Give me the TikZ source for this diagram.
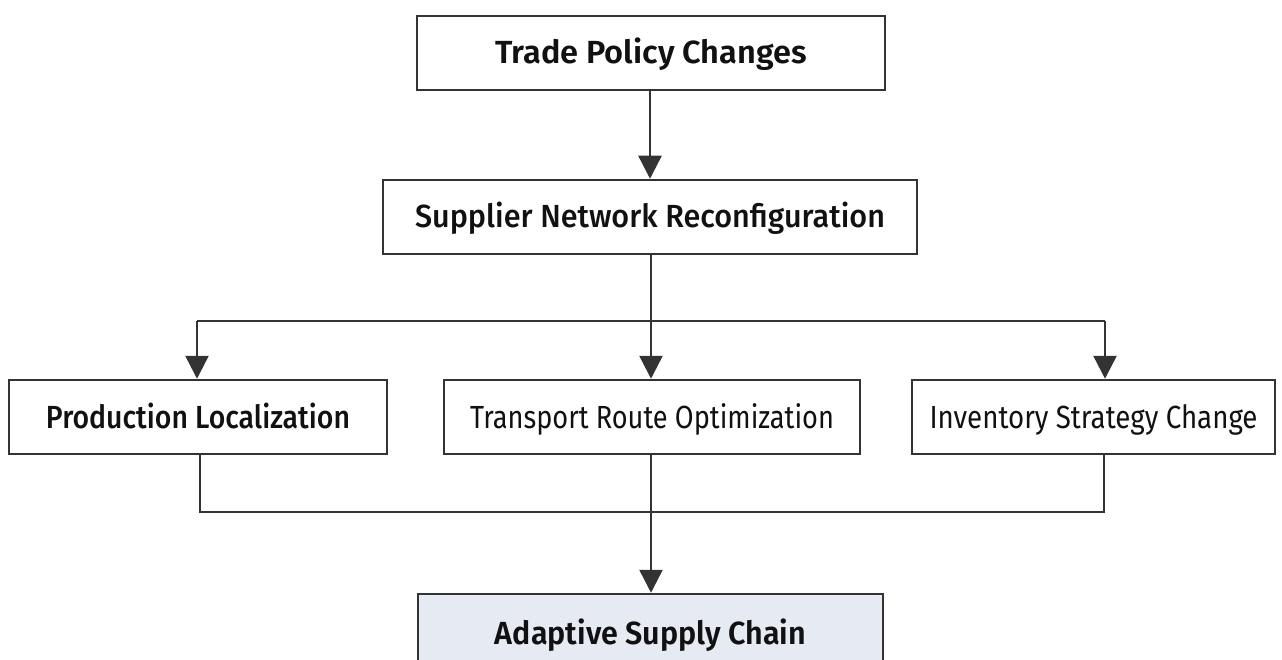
\documentclass[tikz,border=0pt]{standalone}
\usepackage{fontspec}
\setmainfont{Fira Sans}[BoldFont={Fira Sans Medium}]
\newfontfamily\heavyfont{Fira Sans SemiBold}
\usetikzlibrary{arrows.meta}
\definecolor{linegray}{HTML}{333333}
\definecolor{textdark}{HTML}{111111}
\definecolor{goalfill}{HTML}{E6EAF2}
% set a label at a given width, keeping its natural height
\newcommand{\labelw}[2]{\resizebox{#1}{\height}{#2}}
\tikzset{
  box/.style={draw=linegray, line width=2.5pt, fill=white, inner sep=0pt,
    minimum height=74pt, text height=22pt, text depth=0pt,
    text=textdark, font=\fontsize{32}{38}\selectfont\bfseries},
  strongbox/.style={box, font=\fontsize{32}{38}\selectfont\heavyfont},
  lightbox/.style={box, font=\fontsize{32}{38}\selectfont},
  goalbox/.style={strongbox, fill=goalfill, minimum height=78pt},
  link/.style={draw=linegray, line width=2.5pt},
  flow/.style={link, -{Triangle[width=23pt,length=23pt]}}
}
\begin{document}
\begin{tikzpicture}[x=1pt,y=-1pt]
  \useasboundingbox (0,0) rectangle (1282,660);
  \clip (0,0) rectangle (1282,660);
  \fill[white] (0,0) rectangle (1282,660);

  \node[strongbox, minimum width=468pt] (trade) at (651,53) {\labelw{312pt}{Trade Policy Changes}};
  \node[box, minimum width=534pt] (supplier) at (650,217) {\labelw{470pt}{Supplier Network Reconfiguration}};
  \node[box, minimum width=378pt] (prod) at (198,417) {\labelw{304pt}{Production Localization}};
  \node[lightbox, minimum width=416pt] (trans) at (652,417) {\labelw{364pt}{Transport Route Optimization}};
  \node[lightbox, minimum width=363pt] (inv) at (1093.5,417) {\labelw{328pt}{Inventory Strategy Change}};
  \node[goalbox, minimum width=465pt] (goal) at (650.5,633) {\labelw{311pt}{Adaptive Supply Chain}};

  % upper distribution bus
  \coordinate (split) at (651,321);
  \coordinate (splitL) at (197,321);
  \coordinate (splitR) at (1105,321);
  % lower collection bus
  \coordinate (joinL) at (200,512);
  \coordinate (joinR) at (1104,512);
  \coordinate (join) at (651,512);

  \draw[flow] (trade.south -| supplier.north) -- (supplier.north);
  \draw[link] (supplier.south -| split) -- (split);
  \draw[link] (splitL) -- (splitR);
  \draw[flow] (splitL) -- (splitL |- prod.north);
  \draw[flow] (split) -- (split |- trans.north);
  \draw[flow] (splitR) -- (splitR |- inv.north);

  \draw[link] (joinL |- prod.south) -- (joinL) -- (joinR) -- (joinR |- inv.south);
  \draw[link] (join |- trans.south) -- (join);
  \draw[flow] (join) -- (join |- goal.north);
\end{tikzpicture}
\end{document}
